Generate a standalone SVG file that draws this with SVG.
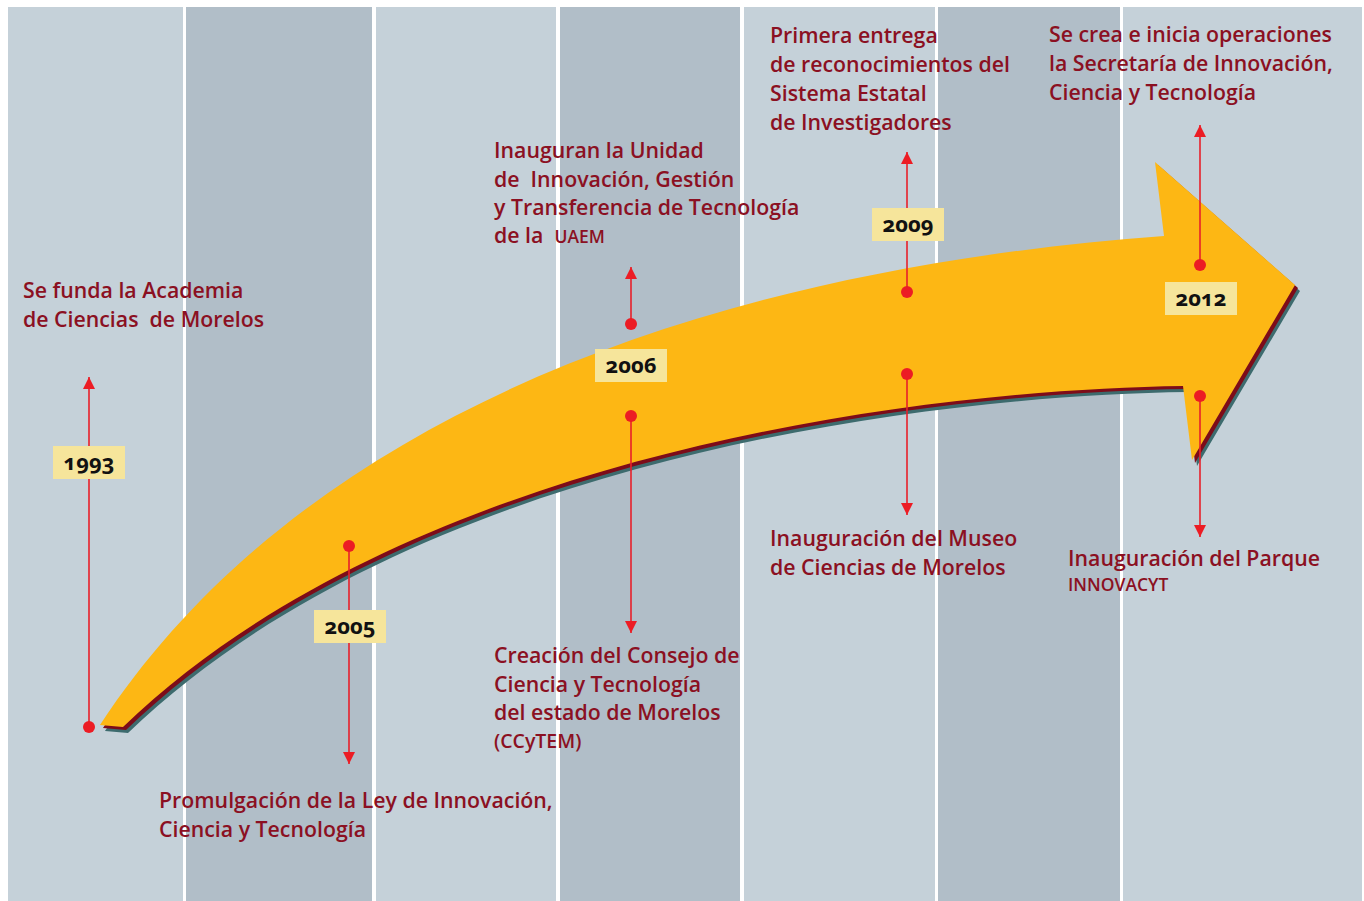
<svg xmlns="http://www.w3.org/2000/svg" width="1364" height="901" viewBox="0 0 1364 901">
<defs>
<style>
.sl{fill:#c5d1d9}
.sd{fill:#b1bec8}
.t{font-family:"Open Sans","Liberation Sans",sans-serif;font-weight:600;font-size:21.3px;fill:#8b1022}
.ts{font-size:17.5px}
.tm{font-size:19.5px}
.yb{fill:#f6e59b}
.yt{font-family:"Open Sans","Liberation Sans",sans-serif;font-weight:700;font-size:22px;fill:#111;text-anchor:middle;font-variant-numeric:oldstyle-nums}
.ln{stroke:#e8202a;stroke-width:1.6;fill:none}
.dot{fill:#ec1c24}
</style>
<marker id="ah" markerUnits="userSpaceOnUse" markerWidth="12" markerHeight="12" refX="12" refY="6" orient="auto">
<path d="M0,0 L12,6 L0,12 Z" fill="#ec1c24"/>
</marker>
<path id="arr" d="M100,725 C300,420 700,270 1164,236 L1155,162 L1295,285 L1192,460 L1183,386 C900,390 400,460 123,727 Z"/>
</defs>
<rect width="1364" height="901" fill="#fff"/>
<g id="background">
<rect class="sl" x="8" y="7" width="175" height="894"/>
<rect class="sd" x="186" y="7" width="186" height="894"/>
<rect class="sl" x="376" y="7" width="180" height="894"/>
<rect class="sd" x="560" y="7" width="180" height="894"/>
<rect class="sl" x="744" y="7" width="191" height="894"/>
<rect class="sd" x="938" y="7" width="182" height="894"/>
<rect class="sl" x="1123" y="7" width="239" height="894"/>
</g>
<g id="big-arrow">
<use href="#arr" transform="translate(5,6)" fill="#3d6b6e"/>
<use href="#arr" transform="translate(3,3)" fill="#7d0c19"/>
<use href="#arr" fill="#fdb714"/>
</g>
<g id="connectors">
<line class="ln" x1="89" y1="727" x2="89" y2="377" marker-end="url(#ah)"/>
<circle class="dot" cx="89" cy="727" r="6"/>
<line class="ln" x1="349" y1="546" x2="349" y2="764" marker-end="url(#ah)"/>
<circle class="dot" cx="349" cy="546" r="6"/>
<line class="ln" x1="631" y1="324" x2="631" y2="267" marker-end="url(#ah)"/>
<circle class="dot" cx="631" cy="324" r="6"/>
<line class="ln" x1="631" y1="416" x2="631" y2="633" marker-end="url(#ah)"/>
<circle class="dot" cx="631" cy="416" r="6"/>
<line class="ln" x1="907" y1="292" x2="907" y2="152" marker-end="url(#ah)"/>
<circle class="dot" cx="907" cy="292" r="6"/>
<line class="ln" x1="907" y1="374" x2="907" y2="515" marker-end="url(#ah)"/>
<circle class="dot" cx="907" cy="374" r="6"/>
<line class="ln" x1="1200" y1="265" x2="1200" y2="125" marker-end="url(#ah)"/>
<circle class="dot" cx="1200" cy="265" r="6"/>
<line class="ln" x1="1200" y1="396" x2="1200" y2="537" marker-end="url(#ah)"/>
<circle class="dot" cx="1200" cy="396" r="6"/>
</g>
<g id="year-1993"><rect class="yb" x="53" y="446" width="72" height="33"/><text class="yt" x="89" y="470">1993</text></g>
<g id="year-2005"><rect class="yb" x="314" y="610" width="72" height="33"/><text class="yt" x="350" y="634">2005</text></g>
<g id="year-2006"><rect class="yb" x="595" y="349" width="72" height="33"/><text class="yt" x="631" y="373">2006</text></g>
<g id="year-2009"><rect class="yb" x="872" y="208" width="72" height="33"/><text class="yt" x="908" y="232">2009</text></g>
<g id="year-2012"><rect class="yb" x="1165" y="282" width="72" height="33"/><text class="yt" x="1201" y="306">2012</text></g>
<g id="event-1993"><text class="t" x="23" y="298">Se funda la Academia</text><text class="t" x="23" y="327" xml:space="preserve">de Ciencias  de Morelos</text></g>
<g id="event-2005"><text class="t" x="159" y="808">Promulgación de la Ley de Innovación,</text><text class="t" x="159" y="837">Ciencia y Tecnología</text></g>
<g id="event-2006-up"><text class="t" x="494" y="158">Inauguran la Unidad</text><text class="t" x="494" y="187" xml:space="preserve">de  Innovación, Gestión</text><text class="t" x="494" y="215">y Transferencia de Tecnología</text><text class="t" x="494" y="243" xml:space="preserve">de la  <tspan class="ts">UAEM</tspan></text></g>
<g id="event-2006-down"><text class="t" x="494" y="663">Creación del Consejo de</text><text class="t" x="494" y="692">Ciencia y Tecnología</text><text class="t" x="494" y="720">del estado de Morelos</text><text class="t tm" x="494" y="748">(CCyTEM)</text></g>
<g id="event-2009-up"><text class="t" x="770" y="43">Primera entrega</text><text class="t" x="770" y="72">de reconocimientos del</text><text class="t" x="770" y="101">Sistema Estatal</text><text class="t" x="770" y="130">de Investigadores</text></g>
<g id="event-2009-down"><text class="t" x="770" y="546">Inauguración del Museo</text><text class="t" x="770" y="575">de Ciencias de Morelos</text></g>
<g id="event-2012-up"><text class="t" x="1049" y="42">Se crea e inicia operaciones</text><text class="t" x="1049" y="71">la Secretaría de Innovación,</text><text class="t" x="1049" y="100">Ciencia y Tecnología</text></g>
<g id="event-2012-down"><text class="t" x="1068" y="566">Inauguración del Parque</text><text class="t ts" x="1068" y="591">INNOVACYT</text></g>
</svg>
